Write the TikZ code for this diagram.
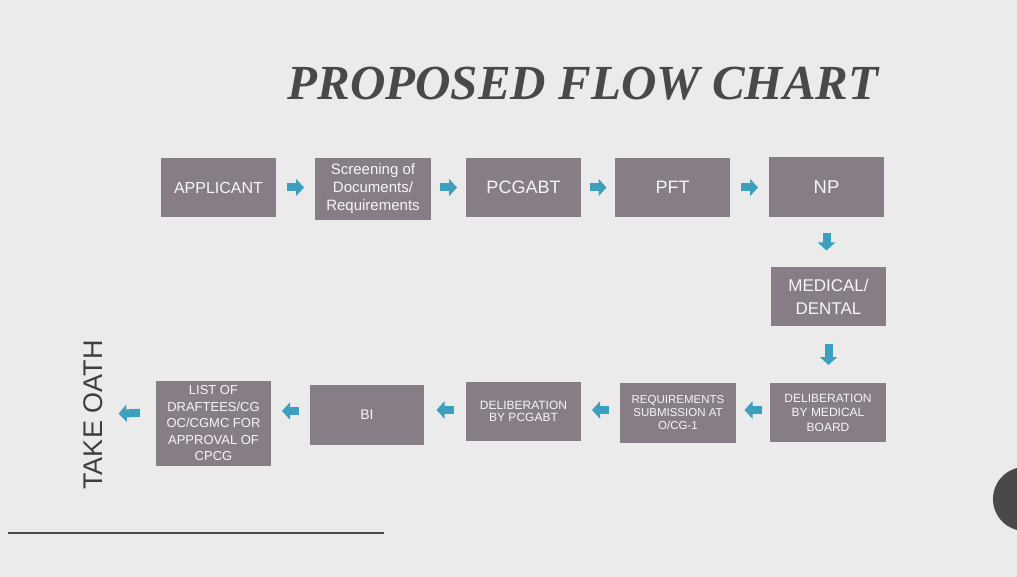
\documentclass[tikz,border=0pt]{standalone}
\usepackage{fontspec}
\usepackage{xcolor}
\usetikzlibrary{arrows.meta}
\newfontfamily\boxfont{Liberation Sans}
\newfontfamily\titlefont{Liberation Serif}
\definecolor{paper}{HTML}{EBEBEC}
\definecolor{boxcol}{HTML}{877D86}
\definecolor{arrowcol}{HTML}{3C9FBE}
\definecolor{inkgray}{HTML}{4B484C}

\begin{document}
\begin{tikzpicture}[x=1pt,y=-1pt,
		box/.style={fill=boxcol,text=white!93!boxcol,minimum width=115pt,minimum height=59pt,
			inner sep=0pt,outer sep=0pt,align=center},
		sz/.style 2 args={font=\boxfont\fontsize{#1}{#2}\selectfont},
		flow/.style={arrowcol,line width=8pt,-{Triangle[length=8pt,width=17pt]},
			shorten <=#1,shorten >=#1}]
			\useasboundingbox (0,0) rectangle (1017,577);
			\clip (0,0) rectangle (1017,577);
			\fill[paper] (0,0) rectangle (1017,577);
			
			\node[anchor=base,inkgray,font=\titlefont\bfseries\itshape\fontsize{49}{55}\selectfont] (title) at (583,100) {PROPOSED FLOW CHART};
			
			\node[box,sz={16}{19}] (app) at (218.5,187.5) {APPLICANT};
			\node[box,sz={15}{18},minimum width=116pt,minimum height=62pt] (scr) at (373,189) {Screening of\\Documents/\\Requirements};
			\node[box,sz={18}{21}] (pcg) at (523.5,187.5) {PCGABT};
			\node[box,sz={18}{21}] (pft) at (672.5,187.5) {PFT};
			\node[box,sz={18.5}{21},minimum height=60pt] (np) at (826.5,187) {NP};
			\node[box,sz={17}{23}] (med) at (828.5,296.5) {MEDICAL/\\DENTAL};
			\node[box,sz={12}{14.5},minimum width=116pt] (dmb) at (828,412.5) {DELIBERATION\\BY MEDICAL\\BOARD};
			\node[box,sz={11.5}{13},minimum width=116pt,minimum height=60pt] (req) at (678,413) {REQUIREMENTS\\SUBMISSION AT\\O/CG-1};
			\node[box,sz={12}{12.5}] (dpc) at (523.5,411.5) {DELIBERATION\\BY PCGABT};
			\node[box,sz={14}{17},minimum width=114pt,minimum height=60pt] (bi) at (367,415) {BI};
			\node[box,sz={13}{16.5},minimum height=85pt] (lst) at (213.5,423.5) {LIST OF\\DRAFTEES/CG\\OC/CGMC FOR\\APPROVAL OF\\CPCG};
			\node[rotate=90,inner sep=0pt,outer sep=0pt,text=inkgray!85!black,sz={27}{30}] (oath) at (93,415) {TAKE OATH};
			
			\draw[flow=11] (app) -- (scr.west |- app);
			\draw[flow=9] (scr.east |- pcg) -- (pcg);
			\draw[flow=8.5] (pcg) -- (pft);
			\draw[flow=11] (pft) -- (np.west |- pft);
			\draw[flow=16.5] (np) -- (med.north -| np);
			\draw[flow=18] (med) -- (dmb.north -| med);
			\draw[flow=8.5] (dmb.west |- 0,410) -- (req.east |- 0,410);
			\draw[flow=11] (req.west |- 0,410) -- (dpc.east |- 0,410);
			\draw[flow=12.5] (dpc.west |- 0,410) -- (bi.east |- 0,410);
			\draw[flow=11] (bi.west |- 0,411) -- (lst.east |- 0,411);
			\draw[flow=16] (lst.west |- 0,412) -- (oath);
			
			\draw[inkgray,line width=1.5pt] (8,533) -- (384,533);
			\fill[inkgray] (1025,499) circle (32);
\end{tikzpicture}
\end{document}
